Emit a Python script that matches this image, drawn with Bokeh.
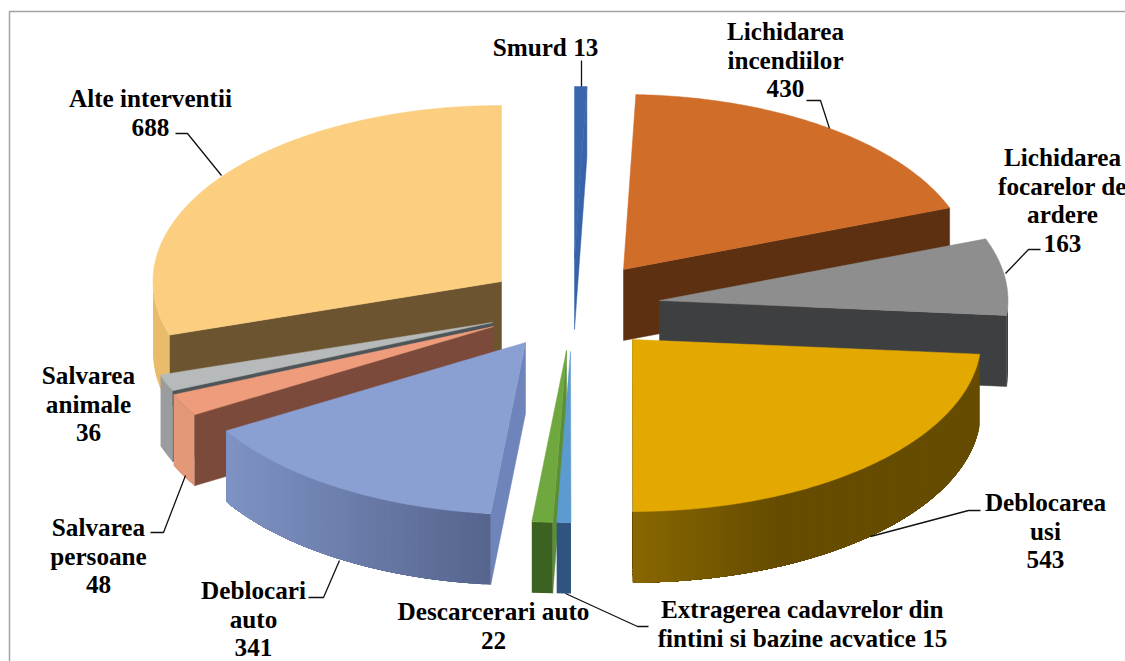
import math
from bokeh.plotting import figure
from bokeh.models import Range1d
from bokeh.core.properties import value
from bokeh.embed import file_html
from bokeh.resources import INLINE

# ---- data
categories = ["Smurd", "Lichidarea incendiilor", "Lichidarea focarelor de ardere", "Deblocarea usi",
              "Extragerea cadavrelor din fintini si bazine acvatice", "Descarcerari auto",
              "Deblocari auto", "Salvarea persoane", "Salvarea animale", "Alte interventii"]
values = [13, 430, 163, 543, 15, 22, 341, 48, 36, 688]

# ---- styles and layout (one entry per slice)
top_colors = ["#3A66AE", "#D06D29", "#8E8E8E", "#E3A900", "#5B9BD0", "#6EA83E", "#8A9FD2", "#EE9C7B", "#B7BABB", "#FBCE80"]
rim_left = ["#2A4A80", "#5C3010", "#3E3F41", "#8A6800", "#2F5480", "#3C6221", "#7F93C4", "#E39878", "#9A9C9D", "#E9BC6C"]
rim_right = ["#2A4A80", "#5C3010", "#3E3F41", "#664C00", "#2F5480", "#3C6221", "#55658E", "#E39878", "#9A9C9D", "#E9BC6C"]
rim_reach = [1, 1, 1, 2.4, 1, 1, 1, 1, 1, 1]
cut_colors = ["#3763A8", "#5C3010", "#3E3F41", "#664C00", "#2F5480", "#5C8F35", "#6F84BA", "#7C4A3A", "#4D5559", "#6C5431"]
apex_x = [574, 623, 659, 632, 570, 566, 525, 493, 492, 501]
apex_y = [258, 269, 300, 339, 351, 350, 342, 326, 322, 281]
radius_y = [172, 175, 175, 172, 171, 172, 172, 172, 172, 176]
RX, DEPTH = 348.5, 71
draw_order = [9, 0, 1, 2, 3, 8, 7, 6, 5, 4]

label_lines = [["Smurd 13"], ["Lichidarea", "incendiilor", "430"], ["Lichidarea", "focarelor de", "ardere", "163"],
               ["Deblocarea", "usi", "543"], ["Extragerea cadavrelor din", "fintini si bazine acvatice 15"],
               ["Descarcerari auto", "22"], ["Deblocari", "auto", "341"], ["Salvarea", "persoane", "48"],
               ["Salvarea", "animale", "36"], ["Alte interventii", "688"]]
label_x = [545, 785, 1062, 1045, 802, 493, 253, 98, 88, 150]
label_y = [47, 31, 157, 502, 609, 611, 590, 527, 375, 98]
LINE_H = 28.6
leader_x = [[581, 581], [806, 820, 829], [1040, 1028, 1005], [980, 968, 870], [648, 637, 565], [], [308, 323, 339],
            [150, 163, 185], [], [175, 187, 221]]
leader_y = [[60, 86], [100, 100, 128], [249, 249, 273], [510, 510, 536], [626, 626, 593], [], [597, 597, 560],
            [532, 532, 475], [], [133, 133, 175]]


def hex2rgb(c):
    return tuple(int(c[i:i + 2], 16) for i in (1, 3, 5))


def mix(a, b, t):
    ra, rb = hex2rgb(a), hex2rgb(b)
    return "#%02x%02x%02x" % tuple(round(ra[i] + (rb[i] - ra[i]) * t) for i in range(3))


total = sum(values)
starts, ends = [], []
acc = 0
for v in values:
    starts.append(acc / total * 360)
    acc += v
    ends.append(acc / total * 360)

p = figure(width=1125, height=661, output_backend="svg", toolbar_location=None,
           x_range=Range1d(0, 1125), y_range=Range1d(661, 0), min_border=0)
p.axis.visible = False
p.grid.visible = False
p.outline_line_color = None

# frame of the chart area
p.line([9, 9, 1125], [661, 11, 11], line_color="#A3A3A3", line_width=1.5)


def pt(i, a):
    r = math.radians(a)
    return apex_x[i] + RX * math.sin(r), apex_y[i] - radius_y[i] * math.cos(r)


for i in draw_order:
    a0, a1 = starts[i], ends[i]
    d = DEPTH
    n = max(2, int((a1 - a0) * 1.5))
    angs = [a0 + (a1 - a0) * k / n for k in range(n + 1)]
    # cut faces visible from the front
    for a, vis in ((a0, math.sin(math.radians(a0)) < 0), (a1, math.sin(math.radians(a1)) > 0)):
        if vis:
            x1, y1 = pt(i, a)
            p.patch([apex_x[i], x1, x1, apex_x[i]],
                    [apex_y[i], y1, y1 + d, apex_y[i] + d],
                    fill_color=cut_colors[i], line_color=cut_colors[i], line_width=0.5)
    # outer rim wall, shaded along its length (overlapping strips, so no seams show)
    lo, hi = max(a0, 90), min(a1, 270)
    if hi > lo:
        uniform = rim_left[i] == rim_right[i]
        m = 1 if uniform else max(1, int(hi - lo))
        xl, _ = pt(i, hi)
        xr, _ = pt(i, lo)
        for k in range(m):
            b0 = lo + (hi - lo) * k / m
            q = max(2, int((hi - b0) / 1.5))
            pts = [pt(i, b0 + (hi - b0) * s / q) for s in range(q + 1)]
            xs = [s[0] for s in pts] + [s[0] for s in reversed(pts)]
            ys = [s[1] for s in pts] + [s[1] + d for s in reversed(pts)]
            t = (pts[0][0] - xl) / max(xr - xl, 1)
            c = mix(rim_left[i], rim_right[i], min(1, max(0, t) * rim_reach[i]))
            p.patch(xs, ys, fill_color=c, line_color=None)
    # top surface
    arc = [pt(i, a) for a in angs]
    p.patch([apex_x[i]] + [q[0] for q in arc], [apex_y[i]] + [q[1] for q in arc],
            fill_color=top_colors[i], line_color=top_colors[i], line_width=0.5)

for lx, ly in zip(leader_x, leader_y):
    if lx:
        p.line(lx, ly, line_color="#111111", line_width=1.3)

for i, lines in enumerate(label_lines):
    xs = [label_x[i]] * len(lines)
    ys = [label_y[i] + LINE_H * k for k in range(len(lines))]
    p.text(xs, ys, text=lines, text_font=value("Liberation Serif"), text_font_style="bold",
           text_font_size="25.2px", text_align="center", text_baseline="middle", text_color="#000000")

open("out.html", "w").write(file_html(p, INLINE))
